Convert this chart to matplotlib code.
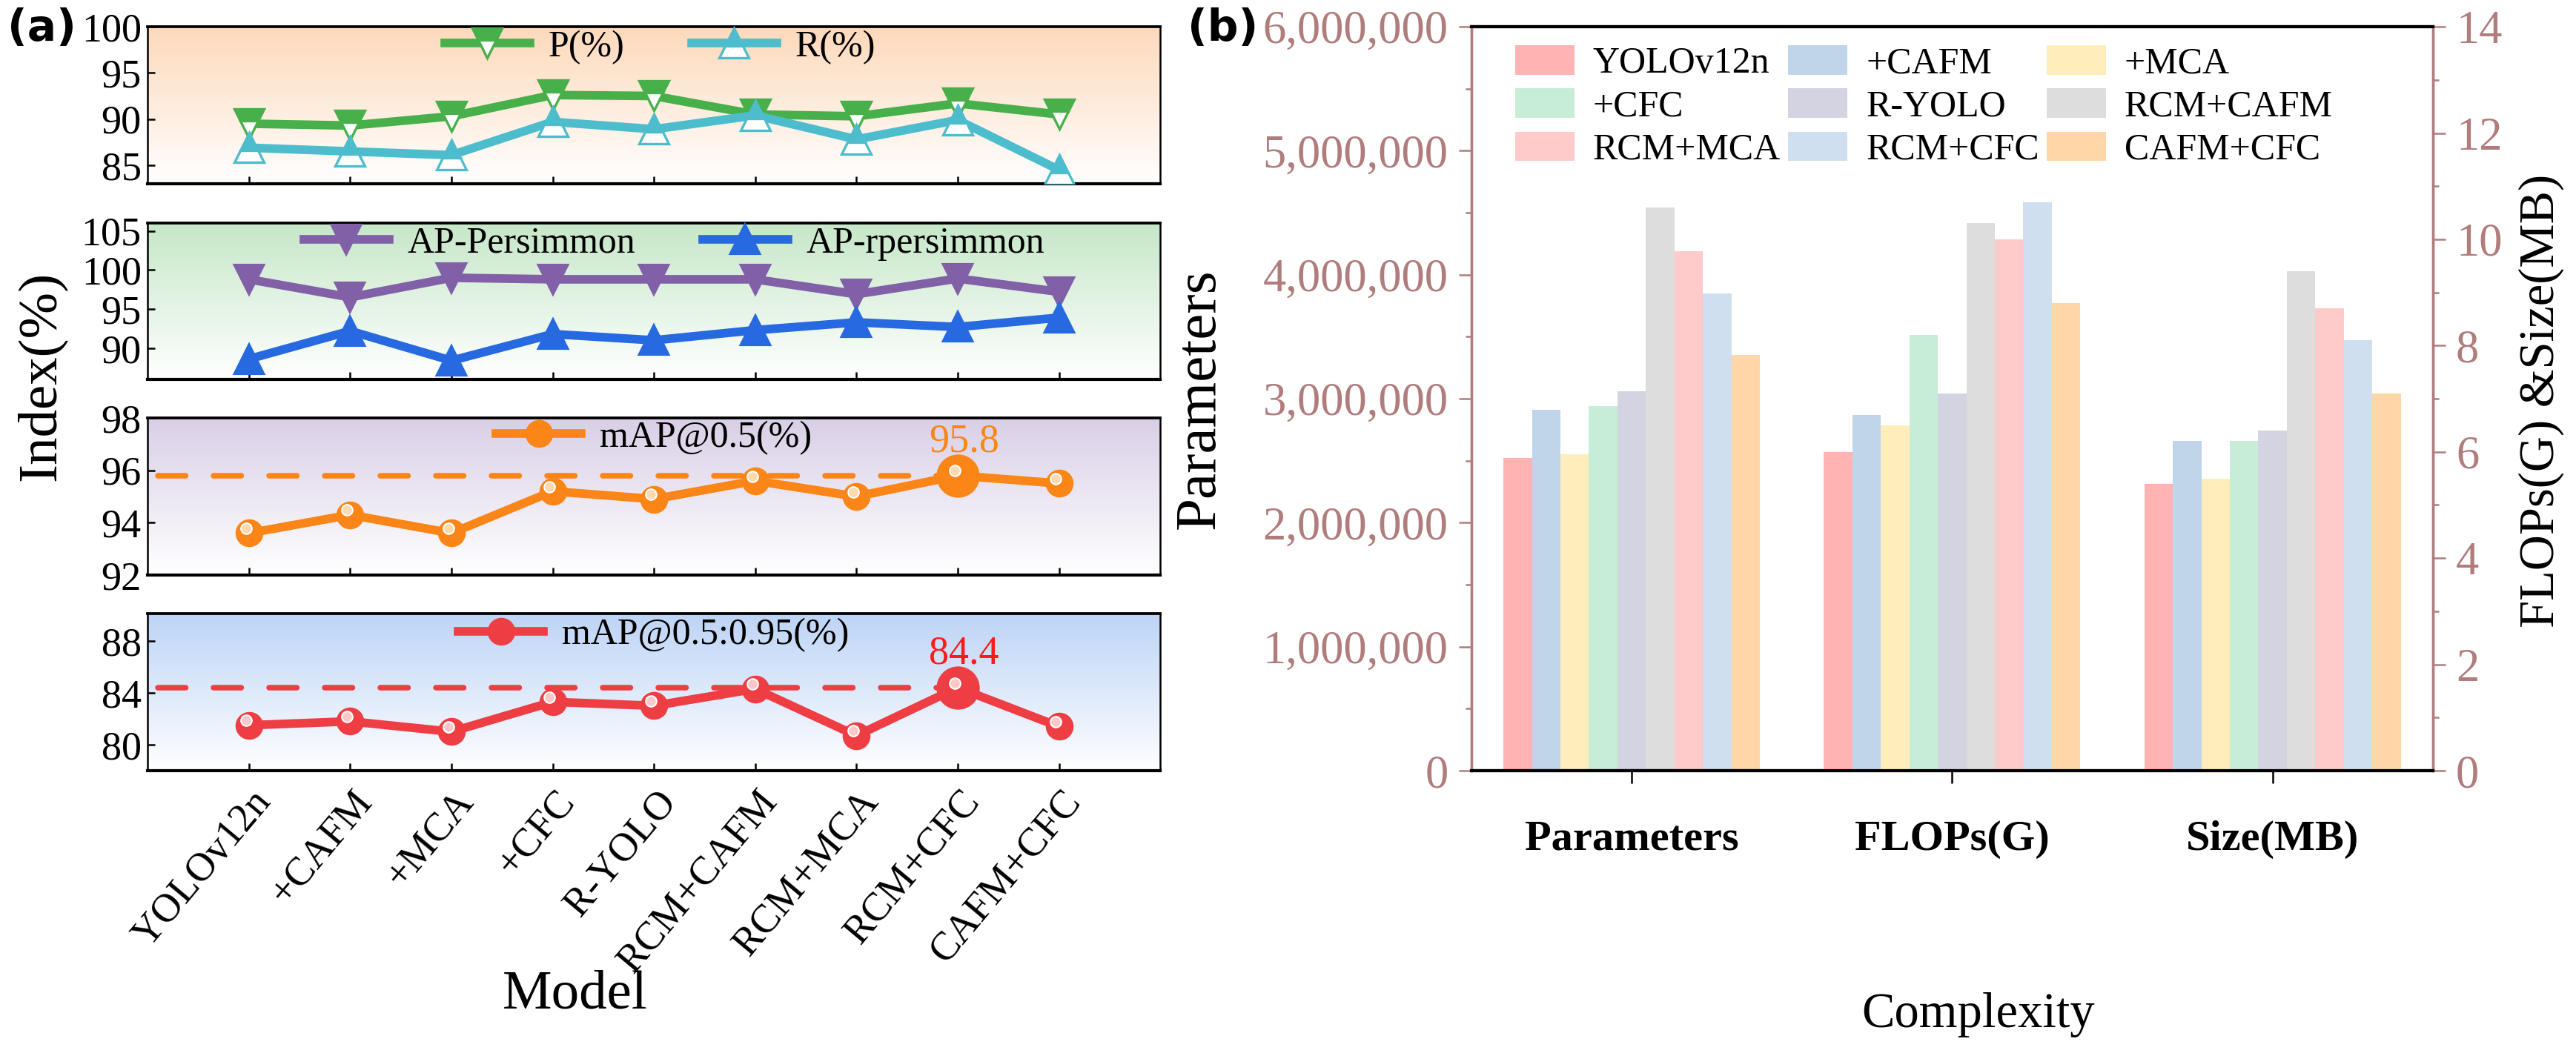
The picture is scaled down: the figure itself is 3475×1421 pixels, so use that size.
import numpy as np
import matplotlib.pyplot as plt
import matplotlib.transforms as mtransforms
from matplotlib.colors import LinearSegmentedColormap
from matplotlib.ticker import MultipleLocator, FuncFormatter

plt.rcParams['font.family'] = ['Liberation Serif', 'DejaVu Serif']

# ---- data -------------------------------------------------------------
models = ['YOLOv12n', '+CAFM', '+MCA', '+CFC', 'R-YOLO',
          'RCM+CAFM', 'RCM+MCA', 'RCM+CFC', 'CAFM+CFC']

p_vals = [89.5, 89.3, 90.3, 92.6, 92.5, 90.5, 90.3, 91.7, 90.5]
r_vals = [86.9, 86.5, 86.1, 89.7, 88.9, 90.4, 87.8, 89.9, 84.5]
ap_persimmon = [98.8, 96.5, 99.0, 98.8, 98.8, 98.8, 96.9, 98.9, 97.2]
ap_rpersimmon = [88.6, 92.2, 88.4, 91.8, 91.0, 92.3, 93.3, 92.7, 93.9]
map50 = [93.6, 94.3, 93.6, 95.2, 94.9, 95.6, 95.0, 95.8, 95.5]
map5095 = [81.5, 81.8, 81.0, 83.3, 83.0, 84.3, 80.7, 84.4, 81.4]
best_idx = 7

complexity = ['Parameters', 'FLOPs(G)', 'Size(MB)']
params = [2520000, 2910000, 2550000, 2940000, 3060000,
          4540000, 4190000, 3850000, 3350000]
flops = [6.0, 6.7, 6.5, 8.2, 7.1, 10.3, 10.0, 10.7, 8.8]
size_mb = [5.4, 6.2, 5.5, 6.2, 6.4, 9.4, 8.7, 8.1, 7.1]

bar_colors = ['#FFB3B3', '#C0D5EA', '#FFEDBB', '#C8EDD7', '#D4D3E2',
              '#DDDDDD', '#FFCACA', '#D0DFEF', '#FFD6A8']
rosy = '#B07C7C'

# ---- figure -----------------------------------------------------------
fig = plt.figure(figsize=(3475 / 300, 1421 / 300), dpi=300)

x = np.arange(len(models))
left, width = 0.0573, 0.3931
bottoms = [0.8255, 0.6397, 0.4539, 0.2681]
heights = [0.1492, 0.1485, 0.1492, 0.1492]
bg_tops = ['#FDD9BB', '#C6E7C8', '#D9CFE6', '#BDD4F6']
ylims = [(83, 100), (86, 106), (92, 98), (78, 90.1)]
yticks = [[85, 90, 95, 100], [90, 95, 100, 105], [92, 94, 96, 98], [80, 84, 88]]

axes = []
for i in range(4):
    ax = fig.add_axes([left, bottoms[i], width, heights[i]])
    cmap = LinearSegmentedColormap.from_list('bg', ['white', bg_tops[i]])
    grad = np.linspace(0, 1, 256).reshape(-1, 1)
    ax.imshow(grad, cmap=cmap, origin='lower', aspect='auto',
              extent=[0, 1, 0, 1], transform=ax.transAxes, zorder=0)
    ax.set_xlim(-1, 9)
    ax.set_ylim(*ylims[i])
    ax.set_yticks(yticks[i])
    ax.set_xticks(x)
    ax.tick_params(direction='in', length=2.5, width=0.6, labelsize=13, pad=2)
    ax.spines['left'].set_linewidth(0.6)
    ax.spines['right'].set_linewidth(0.6)
    ax.spines['top'].set_linewidth(0.9)
    ax.spines['bottom'].set_linewidth(1.0)
    if i < 3:
        ax.set_xticklabels([])
    axes.append(ax)

lw = 2.8
ax1, ax2, ax3, ax4 = axes
ax1.plot(x, p_vals, color='#48B04B', lw=lw, marker='v', ms=9.5,
         fillstyle='top', markerfacecoloralt='white', mec='#48B04B',
         mew=0.8, label='P(%)', zorder=3)
ax1.plot(x, r_vals, color='#4DBDCD', lw=lw, marker='^', ms=9.5,
         fillstyle='top', markerfacecoloralt='white', mec='#4DBDCD',
         mew=0.8, label='R(%)', zorder=3)

ax2.plot(x, ap_persimmon, color='#8160A8', lw=lw, marker='v', ms=9,
         label='AP-Persimmon', zorder=3)
ax2.plot(x, ap_rpersimmon, color='#2669E0', lw=lw, marker='^', ms=9,
         label='AP-rpersimmon', zorder=3)


def ball_line(ax, vals, color, light, label):
    ax.plot(x, vals, color=color, lw=lw, marker='o', ms=8, mec=color,
            label=label, zorder=3)
    ax.plot([-0.9, x[best_idx]], [vals[best_idx]] * 2, color=color, lw=1.8,
            ls=(0, (5, 5)), dash_capstyle='round', zorder=2)
    ax.plot(x[best_idx], vals[best_idx], marker='o', ms=13, color=color,
            zorder=4)
    shift = mtransforms.ScaledTranslation(-1 / 72, 1.5 / 72, fig.dpi_scale_trans)
    ax.plot(x, vals, ls='none', marker='o', ms=3.5, color=light, mec='white',
            mew=0.5, transform=ax.transData + shift, zorder=5)
    ax.annotate(f'{vals[best_idx]}', (x[best_idx], vals[best_idx]),
                xytext=(2, 11), textcoords='offset points', ha='center',
                va='center', color=color if color != '#EE3E44' else '#FF1A1A',
                fontsize=13, zorder=6)


ball_line(ax3, map50, '#FB8517', '#FFD9B0', 'mAP@0.5(%)')
ball_line(ax4, map5095, '#EE3E44', '#FFC8C8', 'mAP@0.5:0.95(%)')

leg_kw = dict(frameon=False, fontsize=12, handlelength=2.3, handletextpad=0.5,
              columnspacing=1.8, borderaxespad=0)
ax1.legend(loc='center', bbox_to_anchor=(0.506, 0.87), ncol=2, **leg_kw)
ax2.legend(loc='center', bbox_to_anchor=(0.52, 0.87), ncol=2, **leg_kw)
ax3.legend(loc='center', bbox_to_anchor=(0.50, 0.874), ncol=1, **leg_kw)
ax4.legend(loc='center', bbox_to_anchor=(0.50, 0.864), ncol=1, **leg_kw)

ax4.set_xticklabels(models, rotation=50, ha='right', va='center',
                    rotation_mode='anchor', fontsize=13)
offset = mtransforms.ScaledTranslation(5 / 72, -6 / 72, fig.dpi_scale_trans)
for lab in ax4.get_xticklabels():
    lab.set_transform(lab.get_transform() + offset)

fig.text(0.016, 0.643, 'Index(%)', rotation=90, ha='center', va='center',
         fontsize=18)
fig.text(0.2233, 0.055, 'Model', ha='center', va='center', fontsize=18)
fig.text(0.003, 0.973, '(a)', fontsize=14, fontweight='bold',
         family='DejaVu Sans', ha='left', va='center')

# ---- right panel ------------------------------------------------------
axb = fig.add_axes([0.5712, 0.2681, 0.3732, 0.7065])
axr = axb.twinx()
gx = np.arange(len(complexity))
bw = 0.8 / len(models)
handles = []
for j, name in enumerate(models):
    off = -0.4 + bw * (j + 0.5)
    h = axb.bar(gx[0] + off, params[j], width=bw, color=bar_colors[j],
                label=name, zorder=2)
    axr.bar(gx[1:] + off, [flops[j], size_mb[j]], width=bw,
            color=bar_colors[j], zorder=2)
    handles.append(h)

axb.set_xlim(-0.5, 2.5)
axb.set_ylim(0, 6000000)
axr.set_ylim(0, 14)
axb.yaxis.set_major_locator(MultipleLocator(1000000))
axb.yaxis.set_minor_locator(MultipleLocator(500000))
axb.yaxis.set_major_formatter(FuncFormatter(lambda v, _: f'{v:,.0f}'))
axr.yaxis.set_major_locator(MultipleLocator(2))
axr.yaxis.set_minor_locator(MultipleLocator(1))
axb.set_xticks(gx)
axb.set_xticklabels(complexity, fontweight='bold', fontsize=14)
axb.tick_params(axis='x', direction='out', length=4, width=0.6, pad=12)
axb.tick_params(axis='y', which='major', direction='out', length=4,
                width=0.6, color=rosy, labelcolor=rosy, labelsize=15)
axb.tick_params(axis='y', which='minor', direction='out', length=2,
                width=0.6, color=rosy)
axr.tick_params(axis='y', which='major', direction='out', length=4,
                width=0.6, color=rosy, labelcolor=rosy, labelsize=15)
axr.tick_params(axis='y', which='minor', direction='out', length=2,
                width=0.6, color=rosy)
for a in (axb, axr):
    a.spines['left'].set_color(rosy)
    a.spines['right'].set_color(rosy)
    a.spines['top'].set_linewidth(1.0)
    a.spines['bottom'].set_linewidth(1.0)

order = [0, 3, 6, 1, 4, 7, 2, 5, 8]
axr.legend([handles[k] for k in order], [models[k] for k in order],
           loc='upper left', bbox_to_anchor=(0.03, 0.995), ncol=3,
           frameon=False, fontsize=12, handlelength=1.6, handleheight=0.85,
           handletextpad=0.5, labelspacing=0.2, columnspacing=0.2,
           borderaxespad=0)

fig.text(0.466, 0.621, 'Parameters', rotation=90, ha='center', va='center',
         fontsize=19)
fig.text(0.9865, 0.619, 'FLOPs(G) &Size(MB)', rotation=90, ha='center',
         va='center', fontsize=16)
fig.text(0.768, 0.036, 'Complexity', ha='center', va='center', fontsize=16)
fig.text(0.461, 0.973, '(b)', fontsize=14, fontweight='bold',
         family='DejaVu Sans', ha='left', va='center')

fig.savefig('out.png', dpi=300)
